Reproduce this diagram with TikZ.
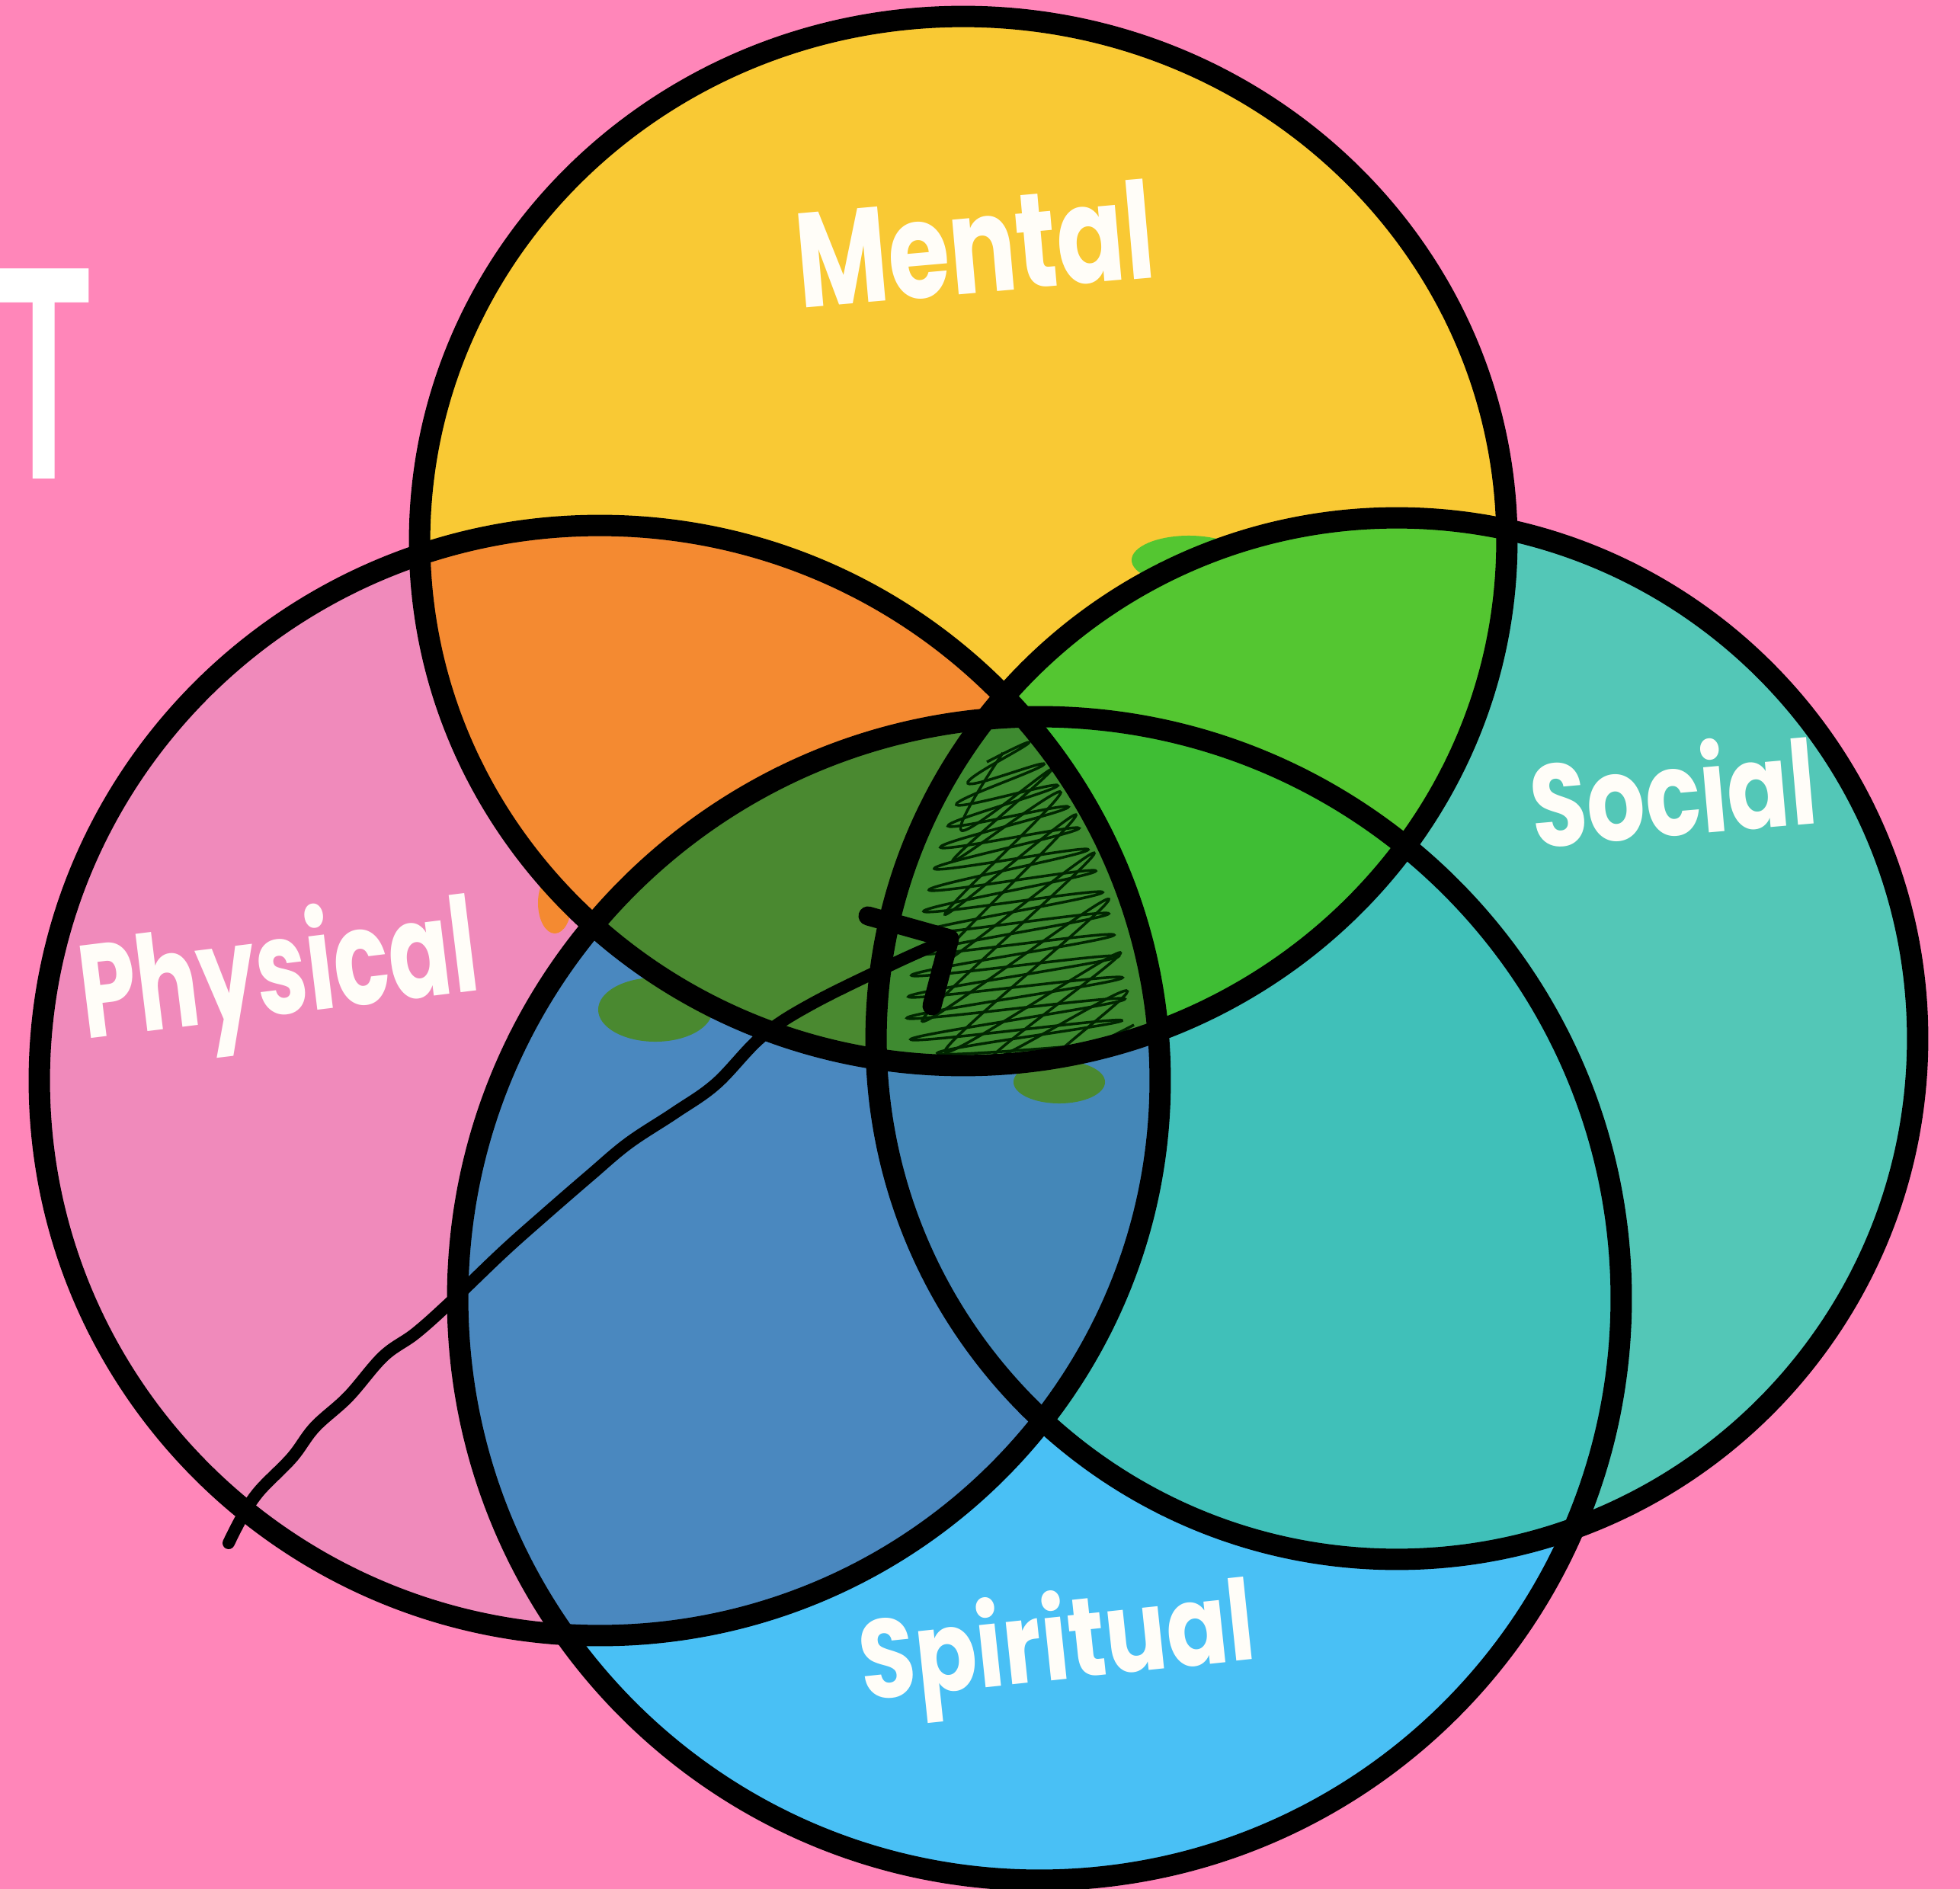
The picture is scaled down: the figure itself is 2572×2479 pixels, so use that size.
\documentclass[tikz,border=0pt]{standalone}
\usepackage{fontspec}
\newfontfamily\hand{Poppins}
\newfontfamily\tfont{Liberation Sans}
\definecolor{bgpink}{HTML}{FF86B9}
\definecolor{cM}{HTML}{F9C934}
\definecolor{cP}{HTML}{F08ABB}
\definecolor{cSo}{HTML}{53C7B7}
\definecolor{cSp}{HTML}{49C0F5}
\definecolor{cMP}{HTML}{F48A31}
\definecolor{cMSo}{HTML}{54C631}
\definecolor{cMSp}{HTML}{4A8930}
\definecolor{cPSp}{HTML}{4A88BF}
\definecolor{cSoSp}{HTML}{40C0B9}
\definecolor{cMSoSp}{HTML}{3FBE34}
\definecolor{cPSoSp}{HTML}{4487B8}
\definecolor{cAll}{HTML}{3E8A30}
\definecolor{labwhite}{HTML}{FFFDF8}
\begin{document}
\begin{tikzpicture}[x=0.01cm,y=-0.01cm,
  outline/.style={draw=black,line width=0.28cm},
  lab/.style={text=labwhite,font=\hand\bfseries\fontsize{38}{38}\selectfont,inner sep=0pt},
  pen/.style={draw=black,line width=0.16cm,line cap=round,line join=round},
  headpen/.style={draw=black,line width=0.25cm,line cap=round,line join=round},
  scrib/.style={draw=black!85!green,line width=0.035cm}]
\def\Ment{(1264,710) ellipse [x radius=7.13cm, y radius=6.88cm]}
\def\Phys{(787,1418) ellipse [x radius=7.35cm, y radius=7.28cm]}
\def\Soc{(1833,1363) circle [radius=6.83cm]}
\def\Spir{(1364,1704) circle [radius=7.63cm]}
% background
\fill[bgpink] (0,0) rectangle (2572,2479);
\useasboundingbox (0,0) rectangle (2572,2479);
% big T
\node[anchor=base,inner sep=0pt,xscale=0.5,text=white,font=\tfont\bfseries\fontsize{114}{114}\selectfont] (tee) at (58,628) {T};
% base fills
\fill[cM] \Ment;
\fill[cP] \Phys;
\fill[cSo] \Soc;
\fill[cSp] \Spir;
% pairwise
\begin{scope}\clip \Ment; \fill[cMP] \Phys; \end{scope}
\begin{scope}\clip \Ment; \fill[cMSo] \Soc; \end{scope}
\begin{scope}\clip \Ment; \fill[cMSp] \Spir; \end{scope}
\begin{scope}\clip \Phys; \fill[cPSp] \Spir; \end{scope}
\begin{scope}\clip \Soc; \fill[cSoSp] \Spir; \end{scope}
% triples
\begin{scope}\clip \Ment; \clip \Phys; \fill[cMSp] \Soc; \end{scope}
\begin{scope}\clip \Ment; \clip \Phys; \fill[cMSp] \Spir; \end{scope}
\begin{scope}\clip \Ment; \clip \Soc; \fill[cMSoSp] \Spir; \end{scope}
\begin{scope}\clip \Phys; \clip \Soc; \fill[cPSoSp] \Spir; \end{scope}
% colour bleeding past the lines
\fill[cMSo] (1560,735) ellipse [x radius=0.75cm, y radius=0.32cm];
\begin{scope}\clip \Spir;
\fill[cMSp] (860,1325) ellipse [x radius=0.75cm, y radius=0.42cm];
\fill[cMSp] (1390,1420) ellipse [x radius=0.6cm, y radius=0.28cm];
\end{scope}
\fill[cMP] (728,1185) ellipse [x radius=0.22cm, y radius=0.4cm];
% four-way with scribble
\begin{scope}
\clip \Ment; \clip \Phys; \clip \Soc; \clip \Spir;
\fill[cAll] (1100,900) rectangle (1600,1450);
\draw[scrib] plot[smooth,tension=0.9] coordinates {
(1295,1000) (1350,975) (1270,1028) (1370,1003) (1255,1056) (1388,1031)
(1244,1084) (1402,1059) (1234,1112) (1416,1087) (1226,1140) (1428,1115)
(1219,1168) (1438,1143) (1212,1196) (1447,1171) (1206,1224) (1455,1199)
(1201,1252) (1462,1227) (1196,1280) (1468,1255) (1192,1308) (1473,1283)
(1190,1336) (1476,1311) (1195,1364) (1472,1339) (1230,1382) (1465,1368)};
\draw[scrib] plot[smooth,tension=0.7] coordinates {
(1316,988) (1262,1090) (1380,1010) (1250,1130) (1392,1040) (1240,1200)
(1412,1070) (1225,1270) (1436,1120) (1210,1340) (1455,1180) (1240,1380)
(1470,1250) (1300,1390) (1478,1300) (1380,1392) (1488,1345)};
\end{scope}
% outlines
\draw[outline] \Ment;
\draw[outline] \Phys;
\draw[outline] \Soc;
\draw[outline] \Spir;
% arrow line
\coordinate (tail) at (300,2025);
\coordinate (tip) at (1246,1232);
\coordinate (barb1) at (1139,1202);
\coordinate (barb2) at (1223,1320);
\draw[pen] plot[smooth,tension=0.6] coordinates {
(300,2025) (318,1990) (340,1957) (383,1913) (413,1873) (457,1833) (503,1780)
(545,1750) (590,1710) (660,1643) (715,1594) (775,1542) (825,1500) (886,1460)
(940,1422) (1000,1360) (1066,1317) (1176,1263) (1246,1232)};
\draw[headpen] (barb1) -- (tip) -- (barb2);
% labels
\node[lab,rotate=5,xscale=0.98,yscale=1.32] (mental) at (1279,320) {Mental};
\node[lab,rotate=7,xscale=0.9,yscale=1.3] (physical) at (367,1285) {Physical};
\node[lab,rotate=5,xscale=0.9,yscale=1.15] (social) at (2195,1036) {Social};
\node[lab,rotate=6,xscale=0.89,yscale=1.1] (spiritual) at (1388,2165) {Spiritual};
\end{tikzpicture}
\end{document}
